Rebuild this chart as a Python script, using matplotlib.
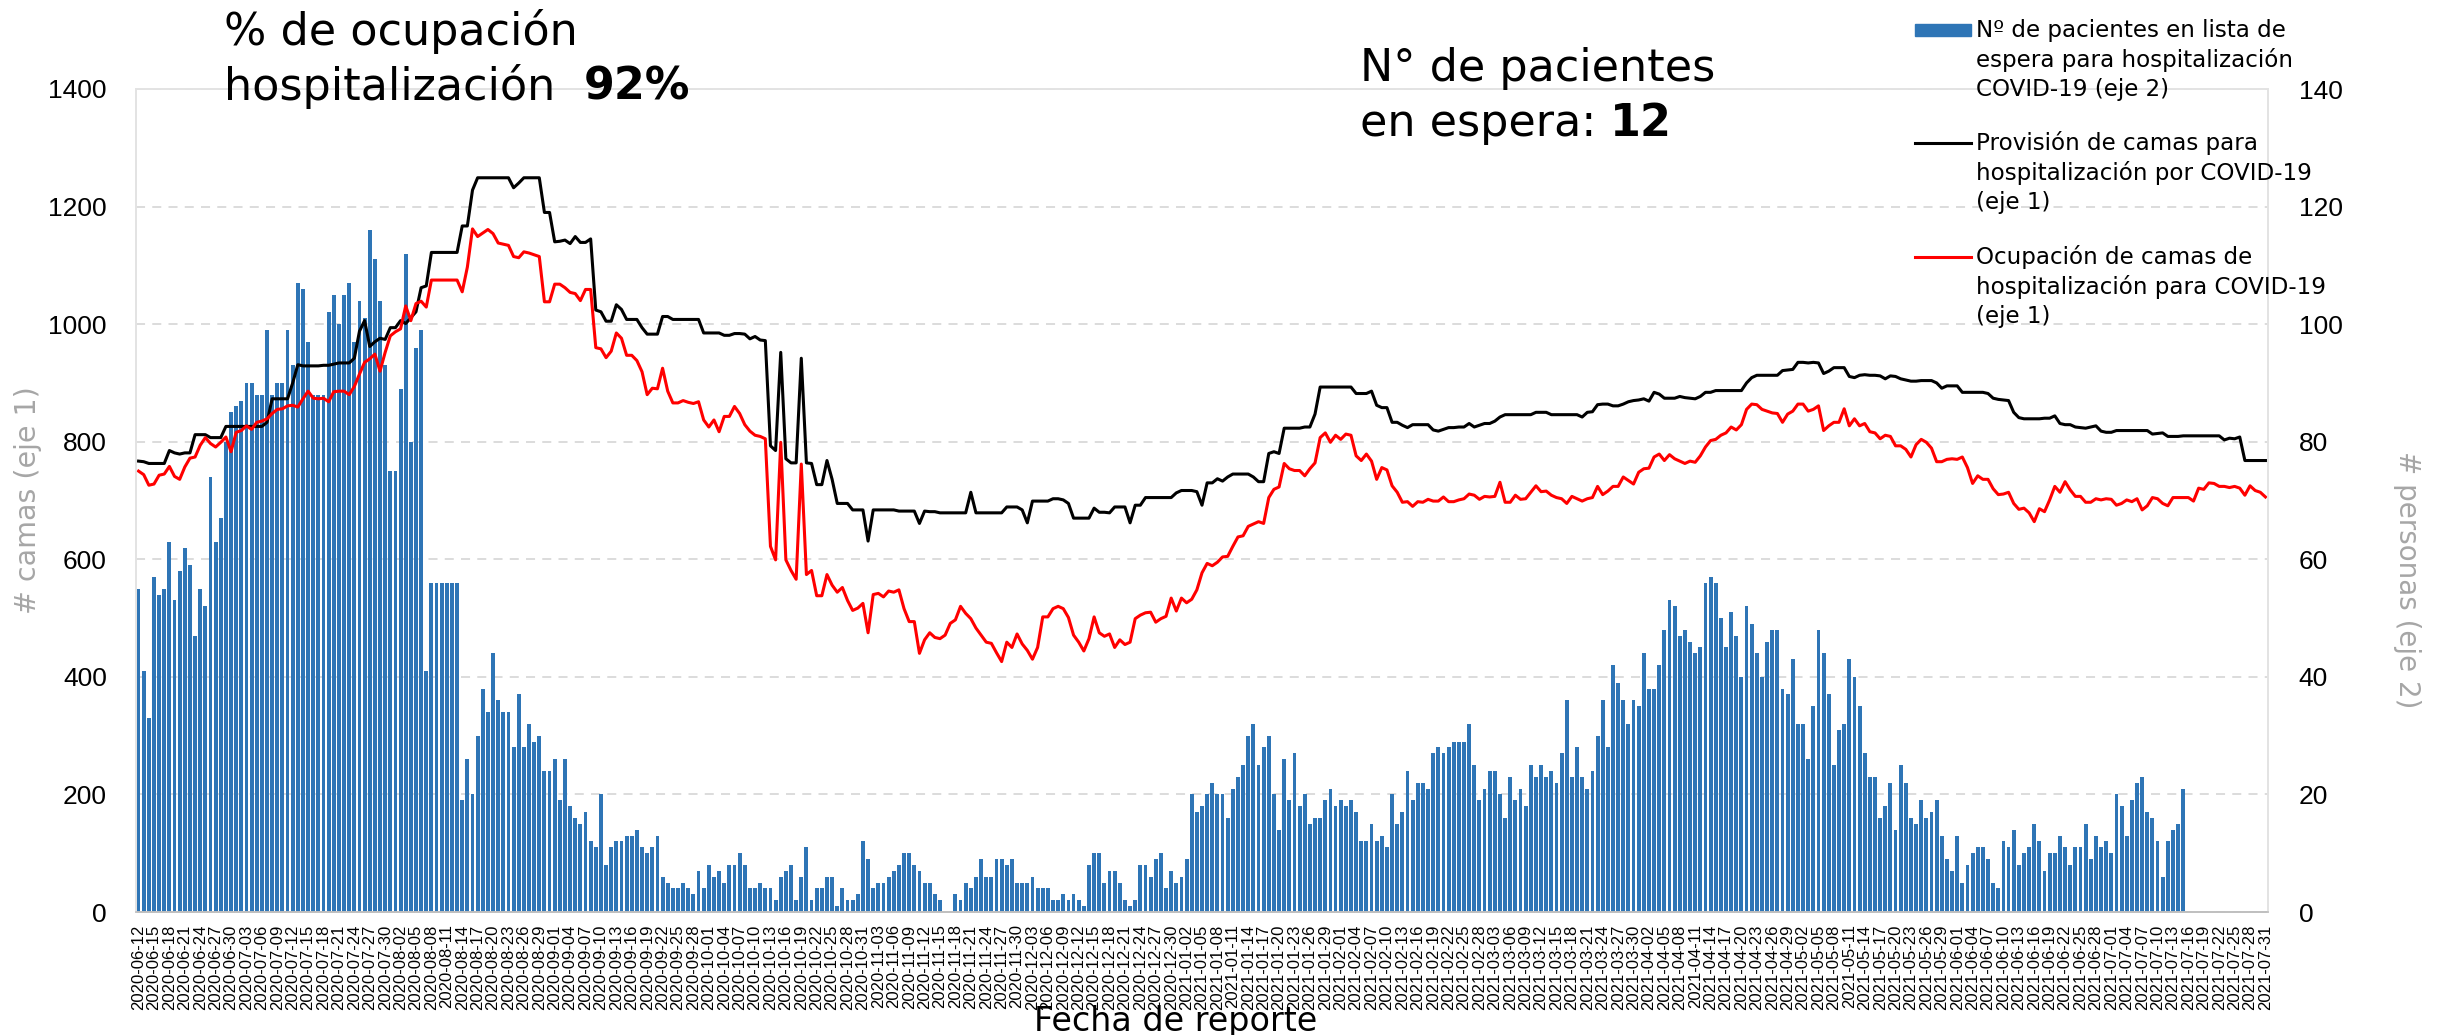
import numpy as np
import pandas as pd
import matplotlib
matplotlib.use("Agg")
import matplotlib.pyplot as plt
from matplotlib.lines import Line2D
from matplotlib.patches import Rectangle

W, H = 2443, 1035

# eje x: un dia por categoria
fechas = pd.date_range("2020-06-12", "2021-07-31", freq="D")

# pacientes en lista de espera (eje 2), datos hasta 2021-07-15
espera = [
    55, 41, 33, 57, 54, 55, 63, 53, 58, 62,
    59, 47, 55, 52, 74, 63, 67, 80, 85, 86,
    87, 90, 90, 88, 88, 99, 88, 90, 90, 99,
    93, 107, 106, 97, 88, 88, 88, 102, 105, 100,
    105, 107, 97, 104, 101, 116, 111, 104, 93, 75,
    75, 89, 112, 80, 96, 99, 41, 56, 56, 56,
    56, 56, 56, 19, 26, 20, 30, 38, 34, 44,
    36, 34, 34, 28, 37, 28, 32, 29, 30, 24,
    24, 26, 19, 26, 18, 16, 15, 17, 12, 11,
    20, 8, 11, 12, 12, 13, 13, 14, 11, 10,
    11, 13, 6, 5, 4, 4, 5, 4, 3, 7,
    4, 8, 6, 7, 5, 8, 8, 10, 8, 4,
    4, 5, 4, 4, 2, 6, 7, 8, 2, 6,
    11, 2, 4, 4, 6, 6, 1, 4, 2, 2,
    3, 12, 9, 4, 5, 5, 6, 7, 8, 10,
    10, 8, 7, 5, 5, 3, 2, 0, 0, 3,
    2, 5, 4, 6, 9, 6, 6, 9, 9, 8,
    9, 5, 5, 5, 6, 4, 4, 4, 2, 2,
    3, 2, 3, 2, 1, 8, 10, 10, 5, 7,
    7, 5, 2, 1, 2, 8, 8, 6, 9, 10,
    4, 7, 5, 6, 9, 20, 17, 18, 20, 22,
    20, 20, 16, 21, 23, 25, 30, 32, 25, 28,
    30, 20, 14, 26, 19, 27, 18, 20, 15, 16,
    16, 19, 21, 18, 19, 18, 19, 17, 12, 12,
    15, 12, 13, 11, 20, 15, 17, 24, 19, 22,
    22, 21, 27, 28, 27, 28, 29, 29, 29, 32,
    25, 19, 21, 24, 24, 20, 16, 23, 19, 21,
    18, 25, 23, 25, 23, 24, 22, 27, 36, 23,
    28, 23, 21, 24, 30, 36, 28, 42, 39, 36,
    32, 36, 35, 44, 38, 38, 42, 48, 53, 52,
    47, 48, 46, 44, 45, 56, 57, 56, 50, 45,
    51, 47, 40, 52, 49, 44, 40, 46, 48, 48,
    38, 37, 43, 32, 32, 26, 35, 48, 44, 37,
    25, 31, 32, 43, 40, 35, 27, 23, 23, 16,
    18, 22, 14, 25, 22, 16, 15, 19, 16, 17,
    19, 13, 9, 7, 13, 5, 8, 10, 11, 11,
    9, 5, 4, 12, 11, 14, 8, 10, 11, 15,
    12, 7, 10, 10, 13, 11, 8, 11, 11, 15,
    9, 13, 11, 12, 10, 20, 18, 13, 19, 22,
    23, 17, 16, 12, 6, 12, 14, 15, 21,
]

# provision de camas (eje 1)
provision = [
    767, 766, 763, 763, 763, 763, 785, 781, 779, 781,
    781, 812, 812, 812, 807, 807, 807, 826, 826, 826,
    826, 826, 826, 826, 826, 833, 873, 873, 873, 873,
    900, 931, 929, 929, 929, 929, 930, 930, 932, 934,
    934, 934, 942, 988, 1006, 962, 970, 976, 974, 994,
    994, 1006, 1001, 1011, 1021, 1062, 1065, 1122, 1122, 1122,
    1122, 1122, 1122, 1167, 1167, 1228, 1249, 1249, 1249, 1249,
    1249, 1249, 1249, 1232, 1240, 1249, 1249, 1249, 1249, 1190,
    1190, 1140, 1141, 1143, 1137, 1149, 1139, 1139, 1145, 1024,
    1021, 1005, 1005, 1033, 1025, 1008, 1008, 1008, 994, 983,
    983, 983, 1013, 1013, 1008, 1008, 1008, 1008, 1008, 1008,
    985, 985, 985, 985, 981, 981, 984, 984, 983, 975,
    979, 973, 972, 793, 785, 952, 771, 764, 764, 942,
    764, 763, 727, 727, 768, 736, 695, 695, 695, 684,
    684, 684, 631, 684, 684, 684, 684, 684, 682, 682,
    682, 682, 661, 682, 681, 681, 679, 679, 679, 679,
    679, 679, 714, 679, 679, 679, 679, 679, 679, 689,
    689, 689, 684, 662, 699, 699, 699, 699, 703, 703,
    701, 695, 670, 670, 670, 670, 687, 680, 680, 679,
    689, 689, 689, 662, 692, 692, 705, 705, 705, 705,
    705, 705, 713, 717, 717, 717, 715, 692, 730, 730,
    737, 733, 740, 745, 745, 745, 745, 740, 732, 732,
    780, 783, 780, 823, 823, 823, 823, 825, 825, 847,
    893, 893, 893, 893, 893, 893, 893, 882, 882, 882,
    886, 862, 858, 858, 833, 833, 828, 824, 829, 829,
    829, 829, 820, 818, 821, 824, 824, 825, 825, 831,
    825, 828, 831, 831, 835, 842, 846, 846, 846, 846,
    846, 846, 850, 850, 850, 846, 846, 846, 846, 846,
    846, 842, 850, 851, 863, 864, 864, 861, 861, 864,
    868, 870, 871, 873, 869, 884, 881, 874, 874, 874,
    877, 875, 874, 873, 877, 884, 884, 887, 887, 887,
    887, 887, 887, 900, 909, 913, 913, 913, 913, 913,
    921, 922, 923, 935, 935, 934, 935, 934, 916, 920,
    926, 926, 926, 911, 909, 913, 914, 913, 913, 912,
    907, 912, 911, 907, 905, 903, 903, 904, 904, 904,
    900, 891, 895, 895, 895, 884, 884, 884, 884, 884,
    882, 874, 872, 871, 870, 850, 841, 839, 839, 839,
    839, 840, 840, 844, 831, 829, 829, 825, 824, 823,
    825, 827, 818, 816, 816, 819, 819, 819, 819, 819,
    819, 819, 813, 814, 815, 809, 809, 809, 810, 810,
    810, 810, 810, 810, 810, 810, 803, 806, 805, 808,
    768, 768, 768, 768, 768,
]

# ocupacion de camas (eje 1)
ocupacion = [
    750, 744, 726, 728, 743, 745, 758, 741, 736, 757,
    772, 774, 794, 807, 797, 791, 799, 808, 783, 816,
    819, 827, 821, 833, 835, 839, 848, 855, 856, 861,
    862, 859, 873, 886, 874, 873, 874, 868, 885, 886,
    886, 880, 894, 915, 935, 941, 949, 920, 952, 980,
    987, 992, 1031, 1006, 1035, 1039, 1029, 1075, 1075, 1075,
    1075, 1075, 1075, 1055, 1097, 1162, 1149, 1155, 1161, 1154,
    1138, 1136, 1134, 1115, 1113, 1123, 1121, 1118, 1115, 1038,
    1038, 1068, 1068, 1062, 1054, 1052, 1040, 1059, 1059, 960,
    958, 943, 954, 985, 976, 947, 947, 938, 919, 880,
    891, 890, 925, 886, 866, 866, 870, 867, 865, 868,
    837, 825, 837, 817, 843, 843, 860, 848, 829, 818,
    811, 809, 805, 622, 599, 799, 599, 581, 566, 762,
    574, 581, 538, 538, 574, 556, 544, 552, 530, 513,
    517, 525, 475, 540, 542, 536, 546, 544, 548, 516,
    494, 494, 440, 463, 475, 467, 465, 471, 491, 497,
    520, 508, 499, 483, 471, 459, 457, 441, 426, 459,
    450, 473, 456, 445, 430, 450, 502, 502, 516, 520,
    516, 501, 471, 459, 444, 465, 502, 475, 469, 473,
    450, 463, 455, 459, 499, 505, 509, 510, 493, 499,
    503, 534, 512, 534, 526, 532, 548, 577, 593, 589,
    595, 604, 605, 622, 638, 640, 656, 660, 664, 661,
    705, 719, 723, 763, 754, 751, 751, 742, 754, 764,
    807, 815, 799, 811, 804, 813, 811, 776, 768, 779,
    767, 736, 756, 752, 725, 714, 697, 698, 690, 698,
    697, 702, 699, 699, 706, 698, 698, 701, 703, 711,
    709, 702, 707, 706, 707, 731, 697, 697, 709, 702,
    703, 714, 725, 715, 716, 709, 705, 703, 695, 707,
    703, 699, 703, 705, 724, 710, 716, 724, 724, 740,
    734, 728, 748, 754, 755, 774, 779, 768, 778, 771,
    767, 763, 767, 765, 776, 791, 802, 804, 811, 815,
    825, 820, 829, 855, 864, 863, 855, 852, 849, 848,
    833, 847, 852, 864, 864, 852, 855, 861, 819, 827,
    833, 833, 856, 827, 839, 827, 831, 817, 815, 805,
    811, 809, 793, 793, 787, 774, 795, 804, 799, 789,
    766, 766, 770, 771, 770, 774, 756, 729, 742, 736,
    736, 720, 710, 711, 714, 695, 685, 687, 679, 664,
    686, 681, 701, 724, 714, 732, 718, 707, 707, 697,
    697, 703, 701, 703, 702, 692, 695, 701, 698, 703,
    684, 691, 705, 703, 695, 691, 705, 705, 705, 705,
    699, 721, 719, 730, 729, 724, 724, 722, 724, 721,
    709, 725, 717, 714, 706,
]

plt.rcParams['font.family'] = ['DejaVu Sans']
AZUL = "#2E75B6"
GRIS = "#A6A6A6"

fig = plt.figure(figsize=(W / 100, H / 100), dpi=100)
fig.patch.set_facecolor("white")

# area de trazado (pixeles de la imagen)
x0, x1, ytop, ybot = 136, 2268, 89, 912
ax1 = fig.add_axes([x0 / W, 1 - ybot / H, (x1 - x0) / W, (ybot - ytop) / H])
ax2 = ax1.twinx()
ax1.set_zorder(2)
ax2.set_zorder(1)
ax1.patch.set_visible(False)

# barras, eje 2
ax2.bar(np.arange(len(espera)), espera, width=0.75, color=AZUL, zorder=2)
ax2.set_ylim(0, 140)
ax2.set_yticks(range(0, 141, 20))
ax2.yaxis.grid(True, color="#D9D9D9", linestyle=(0, (5, 4)), lw=1.3)
ax2.set_axisbelow(True)

# lineas, eje 1
ax1.plot(np.arange(len(provision)), provision, color="black", lw=2.2, solid_joinstyle="round")
ax1.plot(np.arange(len(ocupacion)), ocupacion, color="red", lw=2.2, solid_joinstyle="round")
ax1.set_ylim(0, 1400)
ax1.set_yticks(range(0, 1401, 200))
ax1.set_xlim(-0.5, len(fechas) - 0.5)

tick_pos = np.arange(0, len(fechas), 3)
ax1.set_xticks(tick_pos)
ax1.set_xticklabels([fechas[i].strftime("%Y-%m-%d") for i in tick_pos],
                    rotation=90, fontsize=12, family="Liberation Sans")
ax1.tick_params(axis="x", length=0, pad=9)
ax1.tick_params(axis="y", length=0, pad=21, labelsize=19)
ax2.tick_params(axis="y", length=0, pad=22, labelsize=19)
for t in ax1.get_yticklabels() + ax2.get_yticklabels():
    t.set_family("Liberation Sans")

for a in (ax1, ax2):
    for s in ("top", "right", "left"):
        a.spines[s].set_color("#E3E3E3")
        a.spines[s].set_linewidth(1.2)
    a.spines["bottom"].set_color("#BFBFBF")
    a.spines["bottom"].set_linewidth(1.2)

# titulos de ejes
fig.text(28 / W, 1 - 500 / H, "# camas (eje 1)", rotation=90, color=GRIS,
         fontsize=20.5, ha="center", va="center")
fig.text(2407 / W, 1 - 580 / H, "# personas (eje 2)", rotation=270, color=GRIS,
         fontsize=20, ha="center", va="center")
fig.text(1176 / W, 1 - 1021 / H, "Fecha de reporte", fontsize=24,
         ha="center", va="center")

# textos grandes
fig.text(224 / W, 1 - 45 / H, "% de ocupación", fontsize=32, va="baseline")
t_hosp = fig.text(224 / W, 1 - 100 / H, "hospitalización", fontsize=32, va="baseline")
fig.text(1360 / W, 1 - 81 / H, "N° de pacientes", fontsize=32, va="baseline")
t_esp = fig.text(1360 / W, 1 - 136 / H, "en espera:", fontsize=32, va="baseline")

fig.canvas.draw()
r = fig.canvas.get_renderer()
bb = t_hosp.get_window_extent(r)
fig.text((bb.x1 + 29) / W, 1 - 100 / H, "92%", fontsize=32, fontweight="bold", va="baseline")
bb = t_esp.get_window_extent(r)
fig.text((bb.x1 + 14) / W, 1 - 136 / H, "12", fontsize=32, fontweight="bold", va="baseline")

# leyenda manual, una linea de texto cada vez
etiquetas = [
    ["Nº de pacientes en lista de", "espera para hospitalización", "COVID-19 (eje 2)"],
    ["Provisión de camas para", "hospitalización por COVID-19", "(eje 1)"],
    ["Ocupación de camas de", "hospitalización para COVID-19", "(eje 1)"],
]
centros = [30, 143, 257]
fig.patches.append(Rectangle((1915 / W, 1 - 36 / H), 56 / W, 12 / H,
                             transform=fig.transFigure, color=AZUL))
fig.lines.append(Line2D([1915 / W, 1971 / W], [1 - 143 / H] * 2,
                        transform=fig.transFigure, color="black", lw=2.2))
fig.lines.append(Line2D([1915 / W, 1971 / W], [1 - 257 / H] * 2,
                        transform=fig.transFigure, color="red", lw=2.2))
for lineas, c in zip(etiquetas, centros):
    for k, txt in enumerate(lineas):
        fig.text(1976 / W, 1 - (c + 30 * k) / H, txt, fontsize=16.6,
                 va="center")

fig.savefig("out.png", dpi=100)
